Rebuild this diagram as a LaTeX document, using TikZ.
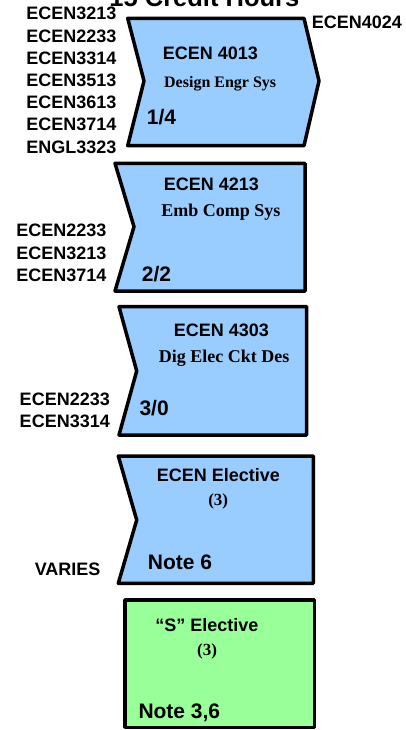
\documentclass[tikz,border=0pt]{standalone}
\usepackage{fontspec}
\setmainfont{Liberation Serif}
\setsansfont{Liberation Sans}
\definecolor{courseblue}{HTML}{99CCFF}
\definecolor{coursegreen}{HTML}{99FF99}
\tikzset{
  box/.style={draw=black, line width=3.5pt, line join=round},
  bluebox/.style={box, fill=courseblue},
  greenbox/.style={box, fill=coursegreen},
  req/.style={font=\sffamily\bfseries\fontsize{18}{18}\selectfont, inner sep=0pt, anchor=base east},
  code/.style={font=\sffamily\bfseries\fontsize{18}{18}\selectfont, inner sep=0pt, anchor=base},
  ctitle/.style={font=\rmfamily\bfseries\fontsize{18}{18}\selectfont, inner sep=0pt, anchor=base},
  credits/.style={font=\rmfamily\bfseries\fontsize{17}{17}\selectfont, inner sep=0pt, anchor=base},
  hours/.style={font=\sffamily\bfseries\fontsize{21}{21}\selectfont, inner sep=0pt, anchor=base west},
}
\begin{document}
\begin{tikzpicture}[x=1pt,y=-1pt]
\useasboundingbox (0,0) rectangle (405,730);
\clip (0,0) rectangle (405,730);

% semester heading (mostly above the page edge)
\node[font=\sffamily\bfseries\fontsize{25.5}{25.5}\selectfont, inner sep=0pt, anchor=base] (heading) at (204.4,6.7) {15 Credit Hours};

% ECEN 4013
\draw[bluebox] (127.7,18.3) -- (304,18.3) -- (319,81) -- (304,145.7) -- (127.7,145.7) -- (144,81) -- cycle;
\node[code] (c4013) at (210.3,59.3) {ECEN 4013};
\node[ctitle, font=\rmfamily\bfseries\fontsize{16}{16}\selectfont] (t4013) at (220.2,87.3) {Design Engr Sys};
\node[hours] (h4013) at (146.7,124.3) {1/4};
\node[req] (p1a) at (116.7,20) {ECEN3213};
\node[req] (p1b) at (116.7,42.2) {ECEN2233};
\node[req] (p1c) at (116.7,64.4) {ECEN3314};
\node[req] (p1d) at (116.7,86.6) {ECEN3513};
\node[req] (p1e) at (116.7,108.8) {ECEN3613};
\node[req] (p1f) at (116.7,131) {ECEN3714};
\node[req] (p1g) at (116.7,153.2) {ENGL3323};
\node[req, anchor=base west] (n4024) at (311.7,29) {ECEN4024};

% ECEN 4213
\draw[bluebox] (115,163.3) -- (305,163.3) -- (305,291) -- (115,291) -- (134,226.7) -- cycle;
\node[code] (c4213) at (211.3,190) {ECEN 4213};
\node[ctitle] (t4213) at (220.8,216.7) {Emb Comp Sys};
\node[hours] (h4213) at (141.7,281.7) {2/2};
\node[req] (p2a) at (106.7,236.7) {ECEN2233};
\node[req] (p2b) at (106.7,259) {ECEN3213};
\node[req] (p2c) at (106.7,281.3) {ECEN3714};

% ECEN 4303
\draw[bluebox] (119,306.7) -- (306.7,306.7) -- (306.7,435) -- (119,435) -- (136.7,371) -- cycle;
\node[code] (c4303) at (221.3,336) {ECEN 4303};
\node[ctitle] (t4303) at (224.2,362.7) {Dig Elec Ckt Des};
\node[hours] (h4303) at (139.3,415.5) {3/0};
\node[req] (p3a) at (110,405.7) {ECEN2233};
\node[req] (p3b) at (110,427.7) {ECEN3314};

% ECEN elective
\draw[bluebox] (118.3,456) -- (313.3,456) -- (313.3,583.3) -- (118.3,583.3) -- (136.7,520) -- cycle;
\node[code] (cele) at (218.3,481) {ECEN Elective};
\node[credits] (tele) at (218.2,505) {(3)};
\node[hours] (hele) at (147.7,569) {Note 6};
\node[req] (p4a) at (100.7,575) {VARIES};

% "S" elective
\draw[greenbox] (125,600) rectangle (314.3,727.3);
\node[code] (cs) at (206.8,631.7) {“S” Elective};
\node[credits] (ts) at (207,655) {(3)};
\node[hours] (hs) at (138.3,718.3) {Note 3,6};
\end{tikzpicture}
\end{document}
